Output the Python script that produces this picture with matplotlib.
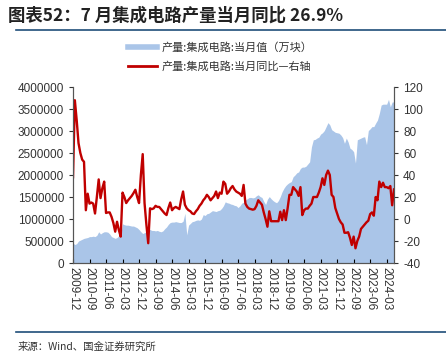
import numpy as np
import matplotlib
matplotlib.use("Agg")
import matplotlib.pyplot as plt
from matplotlib.lines import Line2D

plt.rcParams['font.family'] = ['Noto Sans CJK SC', 'DejaVu Sans']

# monthly data, 2009-12 .. 2024-07
start_month = "2009-12"
# output, in units of 10^4 万块 (multiplied below)
output_1e4 = [
    45,                                                   # 2009-12
    42, 44, 50, 52, 54, 56, 57, 58, 60, 60, 61, 60,       # 2010
    63, 71, 66, 69, 71, 71, 70, 66, 60, 58, 56, 58,       # 2011
    62, 64, 89, 87, 86, 86, 85, 84, 84, 82, 80, 76,       # 2012
    71, 67, 69, 71, 77, 76, 74, 74, 73, 74, 72, 71,       # 2013
    73, 78, 82, 88, 92, 93, 93, 94, 93, 92, 92, 95,       # 2014
    113, 64, 86, 90, 94, 95, 97, 98, 97, 100, 110, 108,   # 2015
    112, 113, 116, 119, 118, 117, 119, 120, 124, 130, 139, 137,  # 2016
    136, 134, 133, 131, 130, 126, 130, 136, 138, 143, 146, 149,  # 2017
    149, 148, 149, 153, 155, 151, 149, 140, 133, 145, 151, 146,  # 2018
    142, 139, 137, 142, 151, 162, 170, 176, 180, 183, 185, 196,  # 2019
    200, 205, 207, 215, 218, 218, 220, 225, 230, 264, 280, 281,  # 2020
    284, 286, 293, 296, 301, 310, 319, 314, 303, 300, 297, 296,  # 2021
    295, 291, 285, 272, 284, 275, 261, 258, 253, 227, 280, 282,  # 2022
    284, 286, 287, 269, 301, 305, 310, 310, 318, 325, 340, 359,  # 2023
    361, 361, 361, 372, 355, 366, 366,                    # 2024
]
# year-on-year growth, %
yoy = [
    38,
    108, 90, 69, 60, 54, 52, 8, 23, 14, 15, 14, 5,
    20, 36, 19, 28, 34, 5.5, 6, 6, 2, -3.6, -11.5, -2.5,
    -10, -16, 24, 20, 14.5, 17, 19, 21, 23.6, 26.6, 20, 14.5,
    40, 59, 14.5, -5, -22, 9.7, 9, 9.7, 12, 11, 11, 9,
    7, 5, 3.6, 10, 15, 8, 10, 11, 10, 9, 18, 25,
    13, 9.7, 8, 7, 5, 4.5, 7, 9, 12, 14, 17, 19,
    22, 20, 17, 19, 21, 25, 19, 24, 23, 34, 32, 23,
    25, 28, 30, 27, 25, 24, 23, 21, 31, 14, 11, 9.5,
    9, 8.5, 9, 12, 17, 15, 13, 6, 0, -7, 7, -2,
    -2, -2, -2, -2, 6.6, -1, 8, -1, 9.7, 22, 22, 29,
    27, 25, 21, 29, 3.6, 8, 9.5, 9.5, 12, 14, 20, 20,
    20, 24, 29, 37, 31, 40, 44, 40, 22, 20, 10, 5,
    0, -3, -5, -12.5, -12.5, -12, -17, -23.6, -16, -26.6, -20, -16,
    -9, -7, -5, -3, -1.5, 4.5, 6, 3, 20, 17, 34, 29,
    33, 29, 29, 28, 30, 12.5, 26.9,
]

output = np.array(output_1e4) * 1e4
yoy = np.array(yoy)
x = np.arange(len(output))
dates = np.datetime64(start_month, 'M') + x
tick_idx = x[::9]
tick_labels = [str(dates[i]) for i in tick_idx]

blue = '#aac5e8'
red = '#c00000'
tick_font = ['Liberation Sans', 'DejaVu Sans']

fig = plt.figure(figsize=(4.46, 3.6), dpi=100)
ax = fig.add_axes([0.1637, 0.2694, 0.7197, 0.4889])
ax2 = ax.twinx()

ax.fill_between(x, 0, output, color=blue, lw=0)
ax2.plot(x, yoy, color=red, lw=1.7)

ax.set_xlim(0, len(x) - 1)
ax.set_ylim(0, 4000000)
yt = np.arange(0, 4000001, 500000)
ax.set_yticks(yt)
ax.set_yticklabels([f"{int(v)}" for v in yt], family=tick_font, fontsize=8.5)
ax2.set_ylim(-40, 120)
yt2 = np.arange(-40, 121, 20)
ax2.set_yticks(yt2)
ax2.set_yticklabels([str(v) for v in yt2], family=tick_font, fontsize=8.5)

ax.set_xticks(tick_idx)
ax.set_xticklabels(tick_labels, rotation=-90, fontsize=8.5, family=tick_font,
                   color='#333333')
ax.tick_params(axis='x', direction='in', length=3, pad=3)
ax.tick_params(axis='y', direction='out', length=3, colors='#333333')
ax2.tick_params(axis='y', direction='out', length=3, colors='#333333')
for a in (ax, ax2):
    a.spines['top'].set_visible(False)
    for s in ('left', 'right', 'bottom'):
        a.spines[s].set_color('#555555')
        a.spines[s].set_linewidth(0.8)

handles = [Line2D([], [], color=blue, lw=4),
           Line2D([], [], color=red, lw=2)]
fig.legend(handles, ['产量:集成电路:当月值（万块）', '产量:集成电路:当月同比—右轴'],
           loc='upper left', bbox_to_anchor=(0.265, 0.91), frameon=False,
           fontsize=8, handlelength=2.6, handletextpad=0.4, labelspacing=0.75,
           labelcolor='#333333')

fig.text(0.018, 0.958, '图表52：7 月集成电路产量当月同比 26.9%', fontsize=12.5,
         fontweight='bold', fontstyle='italic', color='#222222',
         va='center', ha='left')
fig.add_artist(Line2D([0.035, 1.0], [0.917, 0.917], color='#1f4e79', lw=1.2))
fig.add_artist(Line2D([0.035, 1.0], [0.078, 0.078], color='#1f4e79', lw=1.2))
fig.text(0.04, 0.036, '来源：Wind、国金证券研究所', fontsize=7.5, color='#333333',
         va='center', ha='left')

fig.savefig('out.png', dpi=100)
